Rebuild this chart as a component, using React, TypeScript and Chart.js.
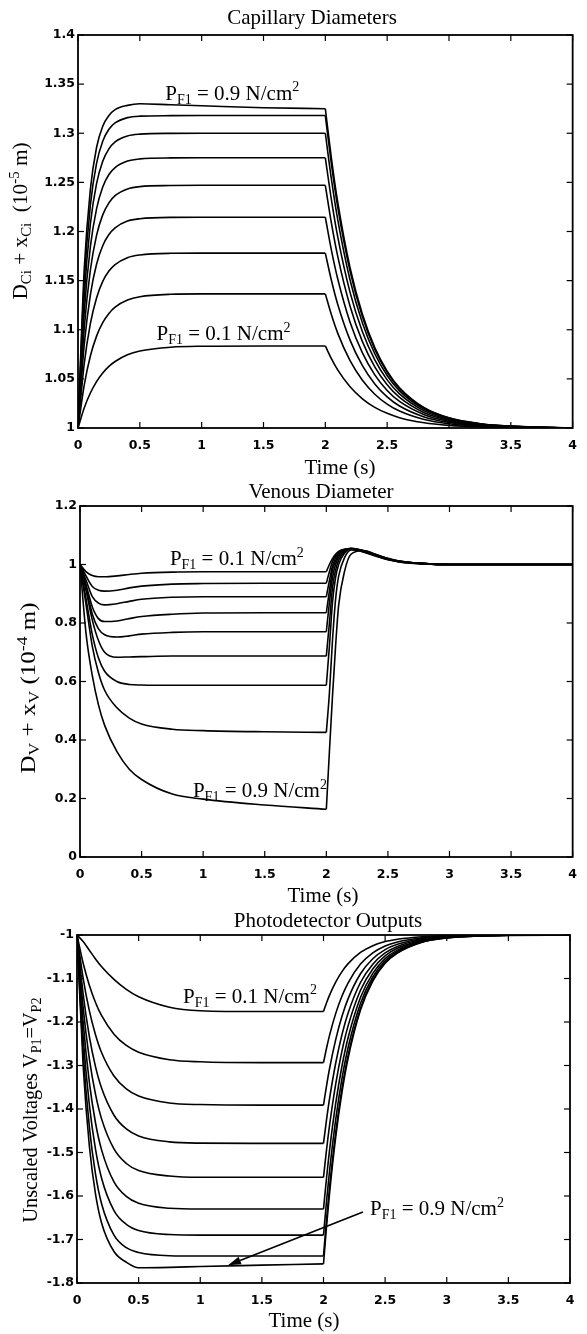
import React, { useEffect, useRef } from 'react';
import { Chart, registerables } from 'chart.js';

Chart.register(...registerables);

// ---------------- data ----------------
const pressures = ['0.1', '0.2', '0.3', '0.4', '0.5', '0.6', '0.7', '0.8', '0.9'];
const switchTime = 2;

// Capillary diameters (10^-5 m)
const capTime = [0, 0.05, 0.1, 0.15, 0.2, 0.25, 0.3, 0.4, 0.5, 0.75, 1, 1.5, 2, 2.05, 2.1, 2.2, 2.3, 2.4, 2.5, 2.6, 2.8, 3, 3.25, 3.5, 4];
const cap01 = [1, 1.0203, 1.0356, 1.0472, 1.056, 1.0627, 1.0677, 1.0745, 1.0783, 1.0822, 1.0832, 1.0835, 1.0835, 1.0703, 1.0591, 1.0419, 1.0297, 1.021, 1.0149, 1.0105, 1.0053, 1.0027, 1.0011, 1.0005, 1.0];
const cap02 = [1, 1.0435, 1.0733, 1.0935, 1.1072, 1.1166, 1.123, 1.1302, 1.1336, 1.1361, 1.1365, 1.1365, 1.1365, 1.1149, 1.0966, 1.0685, 1.0486, 1.0344, 1.0243, 1.0172, 1.0086, 1.0043, 1.0018, 1.0008, 1.0];
const cap03 = [1, 1.065, 1.1063, 1.1324, 1.1492, 1.1597, 1.1664, 1.1734, 1.1761, 1.1778, 1.178, 1.178, 1.178, 1.1499, 1.126, 1.0894, 1.0634, 1.0449, 1.0317, 1.0224, 1.0113, 1.0057, 1.0024, 1.001, 1.0];
const cap04 = [1, 1.0843, 1.1356, 1.1667, 1.1855, 1.1969, 1.2038, 1.2106, 1.213, 1.2144, 1.2145, 1.2145, 1.2145, 1.1806, 1.1519, 1.1077, 1.0764, 1.0541, 1.0382, 1.027, 1.0136, 1.0068, 1.0029, 1.0012, 1.0];
const cap05 = [1, 1.101, 1.1608, 1.1961, 1.2169, 1.2292, 1.2365, 1.2433, 1.2457, 1.2468, 1.247, 1.247, 1.247, 1.208, 1.1749, 1.124, 1.0879, 1.0622, 1.044, 1.0311, 1.0156, 1.0079, 1.0033, 1.0014, 1.0];
const cap06 = [1, 1.1172, 1.1845, 1.223, 1.2453, 1.258, 1.2651, 1.2717, 1.2739, 1.2749, 1.275, 1.275, 1.275, 1.2316, 1.1947, 1.138, 1.0979, 1.0693, 1.049, 1.0347, 1.0174, 1.0087, 1.0037, 1.0016, 1.0];
const cap07 = [1, 1.1335, 1.2076, 1.2487, 1.2715, 1.2841, 1.2913, 1.2973, 1.2991, 1.2999, 1.3, 1.3, 1.3, 1.2526, 1.2124, 1.1506, 1.1068, 1.0756, 1.0534, 1.0378, 1.019, 1.0095, 1.004, 1.0017, 1.0];
const cap08 = [1, 1.1479, 1.2269, 1.2693, 1.2919, 1.304, 1.3105, 1.3159, 1.3174, 1.3179, 1.318, 1.318, 1.318, 1.2678, 1.2251, 1.1596, 1.1132, 1.0801, 1.0566, 1.0401, 1.0201, 1.0101, 1.0043, 1.0018, 1.0];
const cap09 = [1, 1.1607, 1.2429, 1.2855, 1.3072, 1.3181, 1.3241, 1.3284, 1.33, 1.329, 1.328, 1.326, 1.325, 1.2737, 1.2301, 1.1632, 1.1157, 1.0819, 1.0579, 1.041, 1.0206, 1.0103, 1.0044, 1.0019, 1.0];

// Venous diameter (10^-4 m)
const venTime = [0, 0.05, 0.1, 0.15, 0.2, 0.3, 0.4, 0.5, 0.75, 1, 1.5, 2, 2.025, 2.05, 2.075, 2.1, 2.15, 2.2, 2.3, 2.4, 2.5, 2.6, 2.8, 3, 4];
const ven01 = [1.0, 0.975, 0.962, 0.958, 0.958, 0.961, 0.966, 0.97, 0.974, 0.975, 0.975, 0.975, 1.0, 1.02, 1.035, 1.045, 1.052, 1.052, 1.043, 1.029, 1.016, 1.008, 1.002, 1.0, 1.0];
const ven02 = [1.0, 0.96, 0.925, 0.912, 0.909, 0.912, 0.92, 0.926, 0.933, 0.935, 0.936, 0.936, 0.975, 1.01, 1.03, 1.042, 1.052, 1.053, 1.044, 1.03, 1.017, 1.009, 1.002, 1.0, 1.0];
const ven03 = [1.0, 0.945, 0.89, 0.868, 0.862, 0.866, 0.874, 0.881, 0.888, 0.89, 0.89, 0.89, 0.945, 0.995, 1.022, 1.038, 1.051, 1.054, 1.045, 1.031, 1.018, 1.009, 1.002, 1.0, 1.0];
const ven04 = [1.0, 0.93, 0.855, 0.815, 0.805, 0.807, 0.815, 0.822, 0.83, 0.834, 0.835, 0.835, 0.91, 0.98, 1.012, 1.032, 1.05, 1.054, 1.046, 1.032, 1.018, 1.01, 1.003, 1.0, 1.0];
const ven05 = [1.0, 0.92, 0.83, 0.78, 0.76, 0.752, 0.756, 0.762, 0.768, 0.77, 0.77, 0.77, 0.87, 0.955, 1.0, 1.025, 1.048, 1.055, 1.046, 1.032, 1.019, 1.01, 1.003, 1.0, 1.0];
const ven06 = [1.0, 0.91, 0.81, 0.74, 0.7, 0.683, 0.684, 0.685, 0.687, 0.687, 0.687, 0.687, 0.8, 0.92, 0.98, 1.015, 1.045, 1.055, 1.047, 1.033, 1.019, 1.01, 1.003, 1.0, 1.0];
const ven07 = [1.0, 0.88, 0.76, 0.68, 0.635, 0.6, 0.59, 0.588, 0.587, 0.587, 0.587, 0.587, 0.72, 0.87, 0.955, 1.0, 1.04, 1.054, 1.047, 1.033, 1.02, 1.011, 1.003, 1.0, 1.0];
const ven08 = [1.0, 0.86, 0.72, 0.63, 0.57, 0.51, 0.475, 0.455, 0.437, 0.432, 0.428, 0.426, 0.56, 0.74, 0.88, 0.96, 1.025, 1.05, 1.048, 1.034, 1.02, 1.011, 1.003, 1.0, 1.0];
const ven09 = [1.0, 0.76, 0.62, 0.52, 0.45, 0.36, 0.3, 0.265, 0.215, 0.198, 0.178, 0.163, 0.36, 0.55, 0.72, 0.86, 0.98, 1.035, 1.048, 1.035, 1.021, 1.011, 1.003, 1.0, 1.0];

// Photodetector outputs (unscaled voltages)
const photTime = [0, 0.05, 0.1, 0.15, 0.2, 0.3, 0.4, 0.5, 0.75, 1, 1.5, 2, 2.025, 2.05, 2.1, 2.15, 2.2, 2.3, 2.4, 2.5, 2.6, 2.8, 3, 3.25, 3.5, 4];
const phot01 = [-1, -1.015, -1.035, -1.055, -1.073, -1.102, -1.125, -1.142, -1.166, -1.174, -1.176, -1.176, -1.1558, -1.1376, -1.1077, -1.0841, -1.0658, -1.0401, -1.0246, -1.0151, -1.0097, -1.0039, -1.0016, -1.0005, -1.0002, -1];
const phot02 = [-1, -1.065, -1.1154, -1.155, -1.1855, -1.228, -1.2539, -1.2694, -1.2866, -1.2915, -1.2935, -1.2935, -1.2597, -1.2295, -1.1796, -1.1403, -1.1098, -1.0669, -1.0411, -1.0252, -1.0161, -1.0065, -1.0026, -1.0009, -1.0003, -1];
const phot03 = [-1, -1.0997, -1.174, -1.2291, -1.2706, -1.3241, -1.3539, -1.3703, -1.3863, -1.3898, -1.391, -1.391, -1.346, -1.3058, -1.2393, -1.1869, -1.1462, -1.0891, -1.0547, -1.0336, -1.0215, -1.0086, -1.0035, -1.0012, -1.0004, -1];
const phot04 = [-1, -1.1356, -1.2333, -1.3027, -1.3525, -1.4143, -1.4459, -1.4618, -1.4756, -1.4785, -1.479, -1.479, -1.4239, -1.3746, -1.2931, -1.229, -1.1791, -1.1092, -1.0671, -1.0412, -1.0263, -1.0105, -1.0043, -1.0014, -1.0005, -1];
const phot05 = [-1, -1.1671, -1.2841, -1.366, -1.4233, -1.4918, -1.5253, -1.5414, -1.5542, -1.557, -1.557, -1.557, -1.4929, -1.4356, -1.3409, -1.2662, -1.2083, -1.127, -1.078, -1.0479, -1.0306, -1.0123, -1.005, -1.0017, -1.0006, -1];
const phot06 = [-1, -1.201, -1.3383, -1.4316, -1.4946, -1.5676, -1.601, -1.6168, -1.6281, -1.63, -1.63, -1.63, -1.5576, -1.4927, -1.3856, -1.3011, -1.2356, -1.1436, -1.0882, -1.0542, -1.0347, -1.0139, -1.0057, -1.0019, -1.0006, -1];
const phot07 = [-1, -1.2353, -1.3899, -1.4923, -1.5596, -1.6334, -1.6652, -1.6793, -1.6886, -1.69, -1.69, -1.69, -1.6107, -1.5396, -1.4223, -1.3298, -1.2581, -1.1573, -1.0966, -1.0593, -1.038, -1.0152, -1.0062, -1.0021, -1.0007, -1];
const phot08 = [-1, -1.2694, -1.4406, -1.5491, -1.6184, -1.69, -1.7188, -1.7299, -1.7373, -1.738, -1.738, -1.738, -1.6531, -1.5771, -1.4517, -1.3528, -1.276, -1.1683, -1.1033, -1.0635, -1.0406, -1.0162, -1.0066, -1.0022, -1.0007, -1];
const phot09 = [-1, -1.301, -1.4841, -1.5952, -1.6626, -1.7277, -1.7522, -1.765, -1.764, -1.762, -1.759, -1.756, -1.669, -1.5912, -1.4627, -1.3614, -1.2827, -1.1724, -1.1058, -1.065, -1.0416, -1.0166, -1.0068, -1.0023, -1.0008, -1];

// ---------------- layout / styling ----------------
const PAGE_W = 587;
const PAGE_H = 1334;
const SERIF = "'Liberation Serif', 'Times New Roman', Times, serif";
const SANS = "'DejaVu Sans', Arial, sans-serif";

type Seg = { t: string; k?: 'sub' | 'sup' };

const noteSegs = (p: string): Seg[] => [
  { t: 'P' }, { t: 'F1', k: 'sub' }, { t: ` = ${p} N/cm` }, { t: '2', k: 'sup' },
];

interface PanelSpec {
  top: number;
  height: number;
  area: { left: number; top: number; right: number; bottom: number };
  time: number[];
  series: number[][];
  y: { min: number; max: number; step: number };
  title: { text: string; cx: number; base: number };
  xlabel: { cx: number; base: number };
  ylabel: { segs: Seg[]; bx: number; cy: number; len: number };
  notes: { x: number; y: number; p: string }[];
  arrow?: { x0: number; y0: number; x1: number; y1: number };
}

const panels: PanelSpec[] = [
  {
    top: 0, height: 480,
    area: { left: 78, top: 35, right: 582, bottom: 428 },
    time: capTime,
    series: [cap01, cap02, cap03, cap04, cap05, cap06, cap07, cap08, cap09],
    y: { min: 1, max: 1.4, step: 0.05 },
    title: { text: 'Capillary Diameters', cx: 312, base: 24 },
    xlabel: { cx: 340, base: 474 },
    ylabel: {
      segs: [{ t: 'D' }, { t: 'Ci', k: 'sub' }, { t: ' + x' }, { t: 'Ci', k: 'sub' }, { t: '  (10' }, { t: '-5', k: 'sup' }, { t: ' m)' }],
      bx: 27, cy: 221, len: 157,
    },
    notes: [{ x: 0.706, y: 1.334, p: '0.9' }, { x: 0.635, y: 1.0896, p: '0.1' }],
  },
  {
    top: 480, height: 428,
    area: { left: 80, top: 506, right: 573, bottom: 857 },
    time: venTime,
    series: [ven01, ven02, ven03, ven04, ven05, ven06, ven07, ven08, ven09],
    y: { min: 0, max: 1.2, step: 0.2 },
    title: { text: 'Venous Diameter', cx: 321, base: 498 },
    xlabel: { cx: 323, base: 902 },
    ylabel: {
      segs: [{ t: 'D' }, { t: 'V', k: 'sub' }, { t: ' + x' }, { t: 'V', k: 'sub' }, { t: ' (10' }, { t: '-4', k: 'sup' }, { t: ' m)' }],
      bx: 35, cy: 688, len: 171,
    },
    notes: [{ x: 0.73, y: 0.998, p: '0.1' }, { x: 0.917, y: 0.205, p: '0.9' }],
  },
  {
    top: 908, height: 426,
    area: { left: 77, top: 935, right: 570, bottom: 1283 },
    time: photTime,
    series: [phot01, phot02, phot03, phot04, phot05, phot06, phot07, phot08, phot09],
    y: { min: -1.8, max: -1, step: 0.1 },
    title: { text: 'Photodetector Outputs', cx: 328, base: 927 },
    xlabel: { cx: 304, base: 1327 },
    ylabel: {
      segs: [{ t: 'Unscaled Voltages V' }, { t: 'P1', k: 'sub' }, { t: '=V' }, { t: 'P2', k: 'sub' }],
      bx: 37, cy: 1110, len: 225,
    },
    notes: [{ x: 0.86, y: -1.156, p: '0.1' }, { x: 2.377, y: -1.644, p: '0.9' }],
    arrow: { x0: 2.32, y0: -1.637, x1: 1.225, y1: -1.759 },
  },
];

function drawRich(
  ctx: CanvasRenderingContext2D, segs: Seg[], x: number, y: number, size: number,
  align: 'left' | 'center', rotate = false, targetLen?: number,
) {
  const small = Math.round(size * 0.68);
  const font = (s: Seg) => `${s.k ? small : size}px ${SERIF}`;
  const widths = segs.map((s) => { ctx.font = font(s); return ctx.measureText(s.t).width; });
  const total = widths.reduce((a, b) => a + b, 0);
  const sx = targetLen ? targetLen / total : 1;
  ctx.save();
  ctx.translate(x, y);
  if (rotate) ctx.rotate(-Math.PI / 2);
  ctx.scale(sx, 1);
  ctx.fillStyle = '#000';
  ctx.textAlign = 'left';
  ctx.textBaseline = 'alphabetic';
  let cx = align === 'center' ? -total / 2 : 0;
  segs.forEach((s, i) => {
    ctx.font = font(s);
    const dy = s.k === 'sub' ? size * 0.2 : s.k === 'sup' ? -size * 0.4 : 0;
    ctx.fillText(s.t, cx, dy);
    cx += widths[i];
  });
  ctx.restore();
}

function decorPlugin(spec: PanelSpec) {
  return {
    id: 'decor',
    afterDraw(chart: any) {
      const ctx: CanvasRenderingContext2D = chart.ctx;
      const { left, top, right, bottom } = chart.chartArea;
      const xs = chart.scales.x;
      const ys = chart.scales.y;
      const off = spec.top;
      ctx.save();
      ctx.strokeStyle = '#000';
      ctx.lineWidth = 1.8;
      ctx.strokeRect(left, top, right - left, bottom - top);
      ctx.lineWidth = 1.2;
      const seg = (x0: number, y0: number, x1: number, y1: number) => {
        ctx.beginPath(); ctx.moveTo(x0, y0); ctx.lineTo(x1, y1); ctx.stroke();
      };
      const TL = 6;
      xs.ticks.forEach((t: any) => {
        const px = xs.getPixelForValue(t.value);
        seg(px, bottom, px, bottom - TL);
        seg(px, top, px, top + TL);
      });
      ys.ticks.forEach((t: any) => {
        const py = ys.getPixelForValue(t.value);
        seg(left, py, left + TL, py);
        seg(right, py, right - TL, py);
      });
      spec.notes.forEach((n) => {
        drawRich(ctx, noteSegs(n.p), xs.getPixelForValue(n.x), ys.getPixelForValue(n.y), 21, 'left');
      });
      if (spec.arrow) {
        const a = spec.arrow;
        const x0 = xs.getPixelForValue(a.x0), y0 = ys.getPixelForValue(a.y0);
        const x1 = xs.getPixelForValue(a.x1), y1 = ys.getPixelForValue(a.y1);
        const ang = Math.atan2(y1 - y0, x1 - x0);
        const L = 13, W = 4;
        const bx = x1 - L * Math.cos(ang), by = y1 - L * Math.sin(ang);
        ctx.lineWidth = 1.6;
        seg(x0, y0, bx, by);
        ctx.fillStyle = '#000';
        ctx.beginPath();
        ctx.moveTo(x1, y1);
        ctx.lineTo(bx - W * Math.sin(ang), by + W * Math.cos(ang));
        ctx.lineTo(bx + W * Math.sin(ang), by - W * Math.cos(ang));
        ctx.closePath();
        ctx.fill();
      }
      drawRich(ctx, [{ t: spec.title.text }], spec.title.cx, spec.title.base - off, 21, 'center');
      drawRich(ctx, [{ t: 'Time (s)' }], spec.xlabel.cx, spec.xlabel.base - off, 21, 'center');
      drawRich(ctx, spec.ylabel.segs, spec.ylabel.bx, spec.ylabel.cy - off, 20, 'center', true, spec.ylabel.len);
      ctx.restore();
    },
  };
}

const tickFont = { family: SANS, size: 12.5, weight: 'bold' as const };
const fmt = (v: number | string) => `${+Number(v).toFixed(3)}`;

function Panel({ spec }: { spec: PanelSpec }) {
  const ref = useRef<HTMLCanvasElement>(null);
  useEffect(() => {
    const canvas = ref.current;
    if (!canvas) return;
    const a = spec.area;
    const k = spec.time.indexOf(switchTime);
    const datasets: any[] = [];
    spec.series.forEach((vals, i) => {
      const pts = spec.time.map((t, j) => ({ x: t, y: vals[j] }));
      const style = {
        borderColor: '#000',
        borderWidth: 1.6,
        pointRadius: 0,
        fill: false,
        cubicInterpolationMode: 'monotone' as const,
      };
      datasets.push({ label: `PF1 = ${pressures[i]} N/cm2 (on)`, data: pts.slice(0, k + 1), ...style });
      datasets.push({ label: `PF1 = ${pressures[i]} N/cm2 (off)`, data: pts.slice(k), ...style });
    });
    const chart = new Chart(canvas, {
      type: 'line',
      data: { datasets },
      options: {
        responsive: false,
        animation: false,
        devicePixelRatio: 1,
        events: [],
        layout: { padding: { left: 0, top: a.top - spec.top, right: PAGE_W - a.right, bottom: 0 } },
        plugins: { legend: { display: false }, tooltip: { enabled: false }, title: { display: false } },
        scales: {
          x: {
            type: 'linear', min: 0, max: 4,
            ticks: { stepSize: 0.5, padding: 10, color: '#000', font: tickFont, maxRotation: 0, autoSkip: false, callback: fmt },
            grid: { display: false, drawTicks: false },
            border: { display: false },
            afterFit: (s: any) => { s.height = spec.top + spec.height - a.bottom; },
          },
          y: {
            type: 'linear', min: spec.y.min, max: spec.y.max,
            ticks: { stepSize: spec.y.step, padding: 3, color: '#000', font: tickFont, autoSkip: false, callback: fmt },
            grid: { display: false, drawTicks: false },
            border: { display: false },
            afterFit: (s: any) => { s.width = a.left; },
          },
        },
      } as any,
      plugins: [decorPlugin(spec)],
    });
    return () => chart.destroy();
  }, [spec]);
  return (
    <canvas
      ref={ref}
      width={PAGE_W}
      height={spec.height}
      style={{ position: 'absolute', left: 0, top: spec.top, width: PAGE_W, height: spec.height, display: 'block' }}
    />
  );
}

export default function App() {
  return (
    <div style={{ position: 'absolute', left: 0, top: 0, width: PAGE_W, height: PAGE_H, background: '#fff', overflow: 'hidden' }}>
      {panels.map((p, i) => <Panel key={i} spec={p} />)}
    </div>
  );
}
